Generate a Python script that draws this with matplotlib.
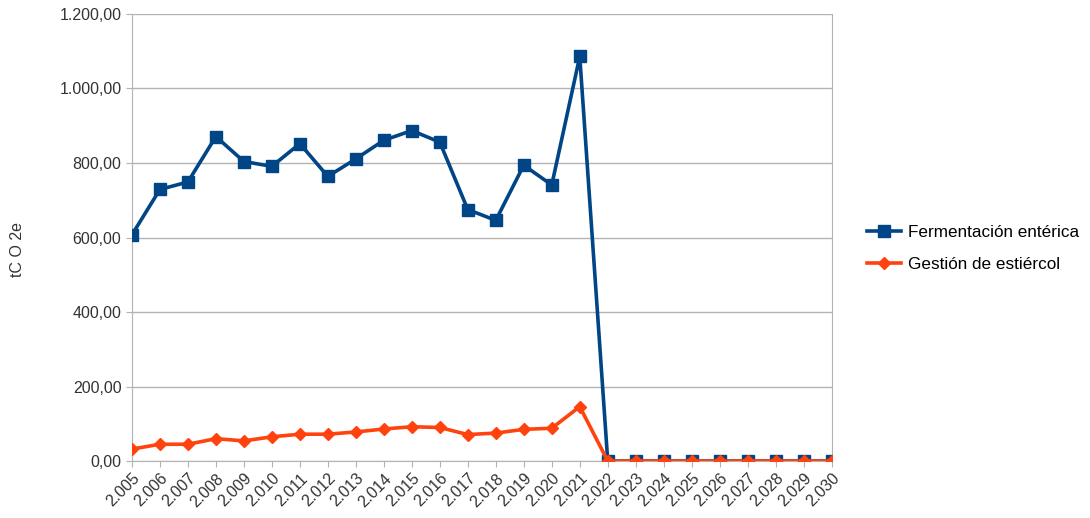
import numpy as np
import matplotlib.pyplot as plt
from matplotlib.ticker import FuncFormatter

plt.rcParams['font.family'] = ['Liberation Sans', 'DejaVu Sans']

years = [str(y) for y in range(2005, 2031)]
year_labels = ["{}.{}".format(y[0], y[1:]) for y in years]

fermentacion = [607, 729, 749, 871, 804, 791, 852, 764, 811, 861, 887, 856,
                675, 646, 794, 741, 1086, 0, 0, 0, 0, 0, 0, 0, 0, 0]
estiercol = [32, 45, 45, 60, 54, 65, 72, 72, 78, 86, 92, 90,
             71, 75, 85, 88, 146, 0, 0, 0, 0, 0, 0, 0, 0, 0]


def fmt_es(v, pos):
    s = "{:,.2f}".format(v)
    return s.replace(",", "X").replace(".", ",").replace("X", ".")


fig = plt.figure(figsize=(10.9, 5.18), dpi=100)
ax = fig.add_axes([0.121, 0.110, 0.642, 0.863])

x = np.arange(len(years))
ax.plot(x, fermentacion, color="#004586", lw=2.6, marker="s", ms=8.5,
        label="Fermentación entérica", zorder=3)
ax.plot(x, estiercol, color="#ff420e", lw=2.6, marker="D", ms=6,
        label="Gestión de estiércol", zorder=4)

ax.set_xlim(0, len(years) - 1)
ax.set_ylim(0, 1200)
ax.set_yticks(np.arange(0, 1201, 200))
ax.yaxis.set_major_formatter(FuncFormatter(fmt_es))
ax.set_xticks(x)
ax.set_xticklabels(year_labels, rotation=45, ha="right", rotation_mode="anchor")

ax.grid(axis="y", color="#b3b3b3", lw=1)
ax.set_axisbelow(True)
for side in ["left", "right", "bottom"]:
    ax.spines[side].set_color("#b3b3b3")
ax.spines["top"].set_visible(False)
ax.tick_params(colors="#b3b3b3", labelcolor="#333333", labelsize=11.5, length=4)
ax.tick_params(axis="x", pad=3)

fig.text(17 / 1090, 1 - 250 / 518, "tC O 2e", rotation=90, fontsize=11.5,
         color="#333333", ha="center", va="center")

fig.legend(loc="center left", bbox_to_anchor=(0.781, 0.52), frameon=False,
           fontsize=12.3, handlelength=2.0, labelspacing=1.0, handletextpad=0.4)

fig.savefig("out.png", dpi=100)
